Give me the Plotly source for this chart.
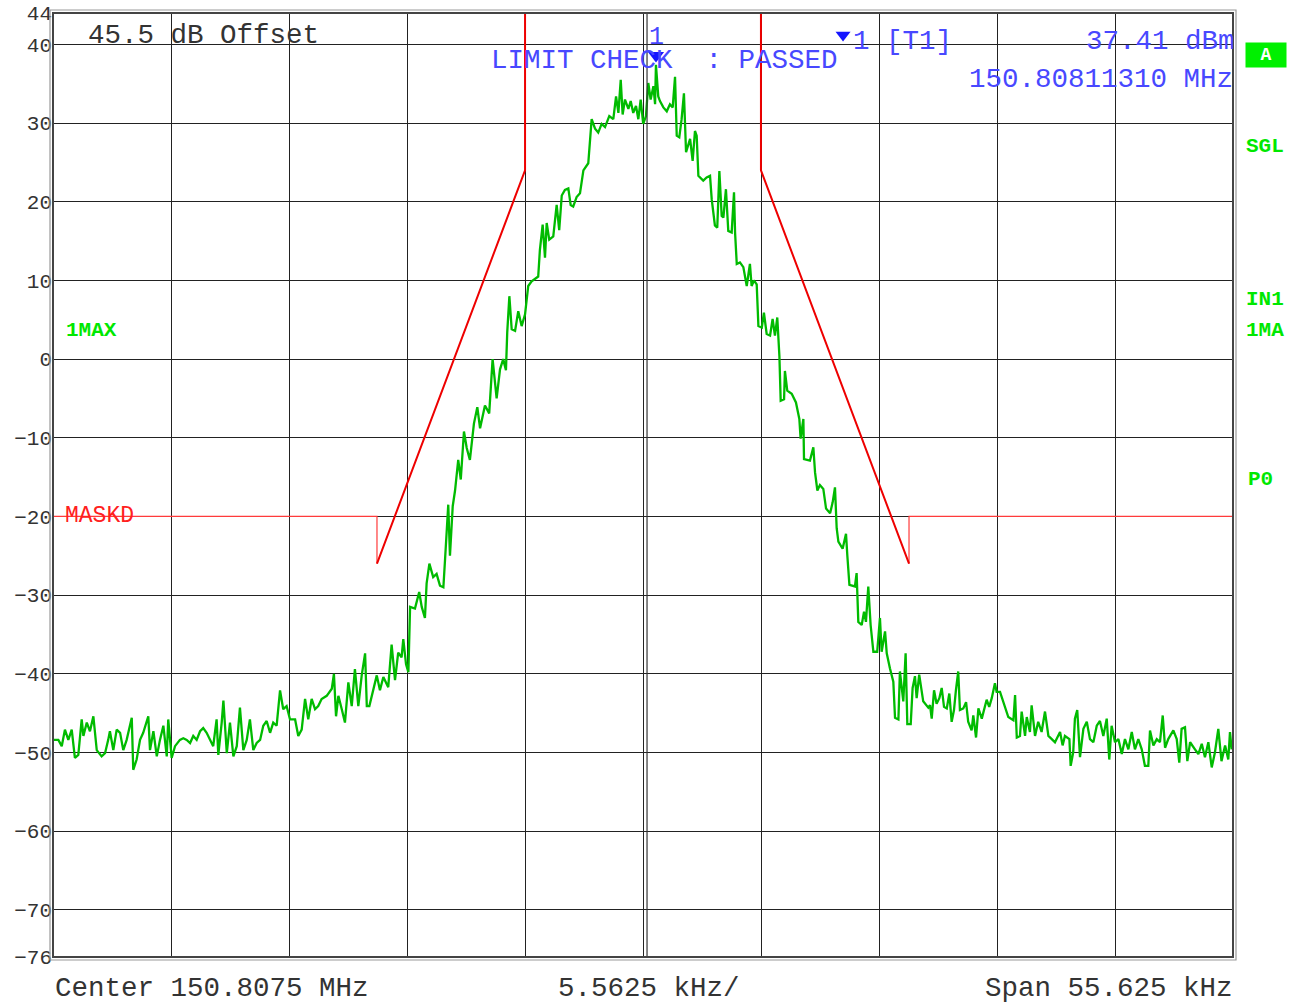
import plotly.graph_objects as go

# ---------------- data (frequency offset from centre in kHz, level in dBm) -------------
center_mhz = 150.8075
span_khz = 55.625
div_khz = 5.5625

noise_left_f = [-27.80,-27.56,-27.40,-27.25,-27.09,-26.93,-26.78,-26.62,-26.46,-26.38,
                -26.22,-26.07,-25.91,-25.75,-25.52,-25.36,-25.21,-25.13,-24.97,-24.81,
                -24.65,-24.50,-24.34,-24.10,-24.03,-23.87,-23.71,-23.56,-23.32,-23.24,
                -23.08,-22.92,-22.77,-22.61,-22.45,-22.38,-22.22,-22.06,-21.83,-21.67,
                -21.51,-21.35,-21.20,-21.04,-20.88,-20.73,-20.57,-20.41,-20.26,-20.10,
                -20.02,-19.86,-19.78,-19.62,-19.47,-19.31,-19.15,-19.00,-18.84,-18.68,
                -18.53,-18.37,-18.21,-18.05,-17.90,-17.74,-17.58,-17.43,-17.27,-17.11,
                -16.96,-16.80,-16.64,-16.40,-16.25,-16.09,-15.93,-15.78,-15.62,-15.46,
                -15.31,-15.15,-14.91,-14.67,-14.57,-14.47,-14.36,-14.20,-14.05,-13.89,
                -13.73,-13.58,-13.42,-13.26,-13.10,-13.02,-12.90]
noise_left_db = [-48.4,-48.4,-49.2,-47.1,-48.4,-47.1,-50.7,-50.3,-45.8,-47.9,
                 -46.2,-47.3,-45.4,-49.7,-50.5,-50.1,-48.4,-47.3,-49.7,-47.1,
                 -47.5,-49.7,-48.4,-45.6,-52.2,-50.9,-48.4,-47.5,-45.4,-49.7,
                 -47.3,-50.5,-48.4,-46.6,-50.5,-45.8,-50.7,-49.2,-48.4,-48.2,
                 -48.4,-48.8,-47.9,-48.4,-47.3,-46.9,-47.5,-48.4,-49.2,-45.8,
                 -50.3,-46.2,-43.4,-50.1,-46.2,-50.5,-49.2,-44.3,-49.7,-48.4,
                 -45.8,-49.7,-48.8,-48.4,-46.6,-46.0,-47.5,-46.2,-46.6,-42.1,
                 -44.5,-44.1,-45.8,-45.8,-47.9,-47.1,-43.2,-45.8,-43.2,-44.5,
                 -44.1,-43.2,-42.8,-41.9,-40.0,-45.4,-42.8,-44.5,-46.2,-41.1,
                 -44.1,-39.4,-44.1,-40.2,-37.4,-44.1,-44.1]

skirt_left_f = [-12.55,-12.40,-12.24,-12.01,-11.85,-11.69,-11.54,-11.38,-11.30,-11.17,
                -11.06,-10.98,-10.75,-10.55,-10.43,-10.28,-10.20,-10.07,-9.89,-9.73,
                -9.57,-9.41,-9.33,-9.25,-9.18,-9.10,-8.97,-8.86,-8.71,-8.59,
                -8.44,-8.31,-8.16,-7.97,-7.81,-7.68,-7.45,-7.25,-7.09,-6.90,
                -6.74,-6.59,-6.46,-6.40,-6.30,-6.19,-6.03,-5.88,-5.72,-5.56,
                -5.41,-5.25,-4.94,-4.86,-4.73,-4.62,-4.54,-4.42,-4.23,-4.07,
                -3.95,-3.83,-3.68,-3.52,-3.41,-3.29,-3.13,-2.97]
skirt_left_db = [-40.2,-42.1,-40.4,-41.7,-36.3,-40.8,-37.3,-37.9,-35.6,-38.8,
                 -39.8,-31.5,-31.7,-29.6,-31.5,-32.9,-28.5,-26.0,-27.7,-27.3,
                 -28.8,-29.0,-25.4,-21.7,-18.5,-25.0,-18.7,-16.7,-12.8,-15.3,
                 -9.2,-11.3,-12.8,-8.2,-6.1,-8.8,-5.9,-6.9,0.0,-5.0,
                 -1.3,0.0,-1.4,3.4,8.0,3.8,3.6,6.1,4.2,5.7,
                 9.3,9.9,10.5,13.9,17.1,12.9,17.3,15.2,15.6,19.6,
                 16.4,20.8,21.5,21.7,19.6,19.4,20.6,21.1]

peak_f = [-2.81,-2.58,-2.50,-2.42,-2.26,-2.11,-1.95,-1.79,-1.59,-1.40,
          -1.27,-1.16,-1.05,-0.96,-0.85,-0.69,-0.58,-0.46,-0.33,-0.22,
          -0.11,0.01,0.14,0.25,0.36,0.49,0.57,0.61,0.72,0.80,
          0.96,1.12,1.27,1.40,1.51,1.59,1.71,1.82,1.93,2.03]
peak_db = [24.0,24.9,27.6,30.5,29.3,28.8,29.9,29.5,30.9,30.5,
           33.4,31.3,35.5,31.1,33.0,31.8,32.8,31.3,32.2,30.5,
           33.0,29.9,30.9,35.1,33.0,34.7,32.4,37.41,33.4,32.8,
           32.0,31.5,32.4,32.0,35.9,28.4,28.2,30.5,33.8,26.3]

skirt_right_f = [2.22,2.34,2.45,2.53,2.61,2.84,3.00,3.16,3.24,3.39,
                 3.50,3.60,3.71,3.79,3.91,4.02,4.18,4.29,4.34,4.42,
                 4.57,4.73,4.89,5.04,5.12,5.23,5.36,5.44,5.60,5.70,
                 5.83,5.99,6.11,6.22,6.33,6.43,6.49,6.65,6.69,6.80,
                 7.01,7.21,7.37,7.43,7.56,7.59,7.87,8.03,8.11,8.22,
                 8.34,8.50,8.63,8.82,8.94,9.05,9.13,9.21,9.41,9.57,
                 9.63,9.73,9.99,10.07,10.15,10.31,10.42,10.51,10.62,10.73,
                 10.86,11.04,11.17,11.25,11.41,11.49,11.64,11.80,11.88,12.04,
                 12.11,12.27,12.38,12.46,12.62,12.71,12.82,12.90,13.02,13.21,
                 13.45]
skirt_right_db = [28.0,25.2,29.0,28.4,23.3,22.7,23.1,23.3,20.3,17.0,
                  16.7,23.9,18.2,18.0,21.6,16.3,16.1,21.2,16.1,12.1,
                  12.3,11.7,9.3,12.1,9.3,10.0,9.5,4.2,4.0,5.9,
                  3.2,3.0,5.1,3.0,5.3,0.4,-5.3,-5.1,-1.5,-4.0,
                  -4.4,-5.5,-7.6,-10.1,-7.6,-12.7,-12.9,-11.2,-14.4,-16.7,
                  -16.0,-16.5,-19.0,-19.6,-18.2,-16.3,-21.5,-23.2,-24.1,-22.2,
                  -24.9,-28.7,-28.9,-27.2,-33.4,-33.8,-32.1,-33.4,-28.9,-33.8,
                  -37.2,-37.2,-32.9,-37.2,-34.6,-37.4,-39.3,-41.0,-45.6,-45.8,
                  -39.7,-43.5,-37.4,-46.4,-46.4,-41.8,-40.3,-43.1,-40.1,-43.5,
                  -44.3]

noise_right_f = [13.53,13.61,13.72,13.84,13.97,14.08,14.19,14.32,14.44,14.55,
                 14.66,14.75,14.86,14.94,15.10,15.23,15.33,15.49,15.57,15.70,
                 15.81,15.97,16.07,16.20,16.32,16.44,16.59,16.67,16.83,16.98,
                 17.22,17.46,17.54,17.62,17.77,17.85,18.01,18.09,18.24,18.32,
                 18.48,18.63,18.79,18.95,19.11,19.27,19.42,19.66,19.78,19.89,
                 20.10,20.16,20.28,20.36,20.47,20.60,20.76,20.92,21.07,21.23,
                 21.39,21.54,21.70,21.86,21.98,22.09,22.25,22.41,22.57,22.72,
                 22.88,23.04,23.19,23.35,23.51,23.66,23.82,23.90,24.06,24.22,
                 24.37,24.50,24.61,24.76,25.00,25.16,25.28,25.39,25.55,25.66,
                 25.79,26.02,26.18,26.34,26.49,26.65,26.81,26.96,27.12,27.27,
                 27.44,27.59,27.67,27.75]
noise_right_db = [-44.0,-45.7,-42.1,-43.8,-43.1,-41.8,-44.2,-44.4,-42.5,-46.1,
                  -44.6,-42.1,-39.7,-44.6,-44.4,-43.6,-46.1,-47.2,-45.3,-48.1,
                  -44.4,-45.7,-44.6,-43.3,-44.2,-43.1,-41.2,-42.3,-42.3,-43.6,
                  -45.5,-45.9,-42.7,-48.1,-47.9,-44.8,-47.9,-45.5,-47.4,-44.0,
                  -47.9,-46.1,-47.4,-44.8,-47.9,-48.3,-48.7,-47.4,-49.1,-47.9,
                  -48.3,-51.7,-50.0,-45.7,-44.6,-50.6,-47.0,-46.1,-48.3,-48.7,
                  -46.6,-46.0,-47.9,-45.7,-50.9,-46.6,-48.7,-48.3,-50.2,-48.3,
                  -49.6,-47.4,-49.6,-48.3,-49.6,-51.7,-51.7,-47.2,-49.1,-48.3,
                  -48.7,-45.3,-49.4,-48.3,-47.2,-48.3,-51.3,-47.0,-46.8,-51.1,
                  -48.7,-49.6,-50.2,-48.9,-50.6,-48.7,-51.9,-50.0,-47.0,-51.1,
                  -49.1,-50.9,-47.4,-49.6]

# limit mask (MASKD)
mask_left_flat_f = [-27.8125, -12.54, -12.54]
mask_left_flat_db = [-20, -20, -26]
mask_left_slope_f = [-12.54, -5.56, -5.56]
mask_left_slope_db = [-26, 24, 44]
mask_right_slope_f = [5.56, 5.56, 12.54]
mask_right_slope_db = [44, 24, -26]
mask_right_flat_f = [12.54, 12.54, 27.8125]
mask_right_flat_db = [-26, -20, -20]

marker_f = 0.613
marker_db = 37.41

y_ticks = [44, 40, 30, 20, 10, 0, -10, -20, -30, -40, -50, -60, -70, -76]

# ---------------------------------------------------------------------------------------
trace_f = noise_left_f + skirt_left_f + peak_f + skirt_right_f + noise_right_f
trace_db = noise_left_db + skirt_left_db + peak_db + skirt_right_db + noise_right_db

half = span_khz / 2
x_grid = [-half + k * div_khz for k in range(11)]

MONO = "Liberation Mono, Courier New, monospace"
BLUE = "#4848ff"
GREEN_LBL = "#00e800"

fig = go.Figure()

fig.add_trace(go.Scatter(x=mask_left_flat_f, y=mask_left_flat_db, mode="lines",
                         line=dict(color="#ff3b3b", width=1.2), hoverinfo="skip"))
fig.add_trace(go.Scatter(x=mask_right_flat_f, y=mask_right_flat_db, mode="lines",
                         line=dict(color="#ff3b3b", width=1.2), hoverinfo="skip"))
fig.add_trace(go.Scatter(x=mask_left_slope_f, y=mask_left_slope_db, mode="lines",
                         line=dict(color="#ee0000", width=2), hoverinfo="skip"))
fig.add_trace(go.Scatter(x=mask_right_slope_f, y=mask_right_slope_db, mode="lines",
                         line=dict(color="#ee0000", width=2), hoverinfo="skip"))

fig.add_trace(go.Scatter(x=trace_f, y=trace_db, mode="lines",
                         line=dict(color="#00bb00", width=2.3), name="1MAX"))

# marker 1 triangle above the peak, plus the one in the header
fig.add_trace(go.Scatter(x=[marker_f], y=[marker_db + 1.2], mode="markers",
                         marker=dict(symbol="triangle-down", size=14, color="#1515ff"),
                         cliponaxis=False, hoverinfo="skip"))
fig.add_trace(go.Scatter(x=[9.43], y=[41.2], mode="markers",
                         marker=dict(symbol="triangle-down", size=13, color="#1515ff"),
                         cliponaxis=False, hoverinfo="skip"))

# plot area on the page spans x 53..1233, y 13..957 (body margin removed below)
W, H = 1180.0, 944.0
def px(xp):
    return (xp - 53) / W
def py(yp):
    return (957 - yp) / H

ann = []
def txt(text, x, y, color, size=27.5, xanchor="left", bold=False, **kw):
    t = f"<b>{text}</b>" if bold else text
    ann.append(dict(text=t, x=px(x), y=py(y), xref="paper", yref="paper",
                    xanchor=xanchor, yanchor="middle", showarrow=False,
                    font=dict(family=MONO, size=size, color=color), **kw))

txt("45.5 dB Offset", 86, 35, "#333333")
txt("LIMIT CHECK  : PASSED", 489, 60, BLUE)
txt("1 [T1]", 851, 41, BLUE)
txt("37.41 dBm", 1237, 41, BLUE, xanchor="right")
txt("150.80811310 MHz", 1235, 80, BLUE, xanchor="right")
txt("1", 656, 37, BLUE, xanchor="center", size=25)
txt("MASKD", 63, 516, "#ff2020", size=23)
txt("1MAX", 64, 330, GREEN_LBL, size=21, bold=True)
txt("SGL", 1244, 146, GREEN_LBL, size=21, bold=True)
txt("IN1", 1244, 299, GREEN_LBL, size=21, bold=True)
txt("1MA", 1244, 330, GREEN_LBL, size=21, bold=True)
txt("P0", 1246, 479, GREEN_LBL, size=21, bold=True)
txt("Center 150.8075 MHz", 53, 988, "#333333")
txt("5.5625 kHz/", 556, 988, "#333333")
txt("Span 55.625 kHz", 1235, 988, "#333333", xanchor="right")
ann.append(dict(text="<b>A</b>", x=px(1266), y=py(55), xref="paper", yref="paper",
                xanchor="center", yanchor="middle", showarrow=False,
                font=dict(family=MONO, size=18, color="white"),
                bgcolor="#00f000", width=38, height=22))

shapes = [
    # centre double line
    dict(type="line", xref="x", yref="paper", x0=0.19, x1=0.19, y0=0, y1=1,
         line=dict(color="#333333", width=1.2)),
    # frame
    dict(type="rect", xref="paper", yref="paper", x0=0, x1=1, y0=0, y1=1,
         line=dict(color="#444444", width=2)),
    dict(type="rect", xref="paper", yref="paper", x0=-3 / W, x1=1 + 3 / W,
         y0=-3 / H, y1=1 + 3 / H, line=dict(color="#9a9a9a", width=1.2)),
]

def tick_label(v):
    return ("\u2212" + str(abs(v))) if v < 0 else str(v)

fig.update_layout(
    template="none",
    width=1299, height=1004,
    margin=dict(l=53, r=66, t=13, b=47, pad=0),
    paper_bgcolor="white", plot_bgcolor="white",
    showlegend=False,
    annotations=ann, shapes=shapes,
    xaxis=dict(range=[-half, half], tickvals=x_grid, showticklabels=False,
               showgrid=True, gridcolor="#222222", gridwidth=1.2, zeroline=False,
               ticks="", showline=False, automargin=False, fixedrange=True),
    yaxis=dict(range=[-76, 44], tickvals=y_ticks, ticktext=[tick_label(v) for v in y_ticks],
               showgrid=True, gridcolor="#222222", gridwidth=1.2, zeroline=False,
               ticks="", showline=False, automargin=False, fixedrange=True,
               ticklabeloverflow="allow",
               tickfont=dict(family=MONO, size=21, color="#333333")),
)

fig.write_html("out.html",
               config={"displayModeBar": False},
               post_script="document.body.style.margin='0';document.body.style.overflow='hidden';")
